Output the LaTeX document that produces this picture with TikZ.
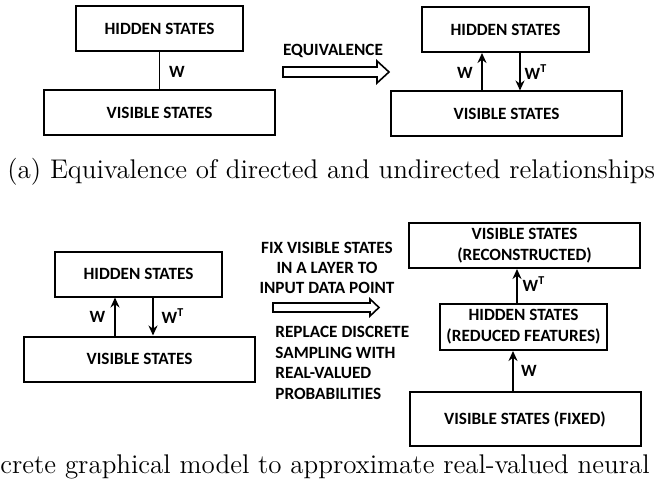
\documentclass[tikz,border=0pt]{standalone}
\usepackage{fontspec}
\setsansfont{Carlito}
\usetikzlibrary{arrows.meta}

\begin{document}
\begin{tikzpicture}[
    x=0.5pt, y=-0.5pt,
    box/.style={draw, line width=1pt, inner sep=0pt, align=center, font=\sffamily\bfseries\fontsize{8.6}{10.4}\selectfont},
    smallbox/.style={box, minimum width=83.5pt, minimum height=22.5pt},
    widebox/.style={box, minimum width=115.5pt, minimum height=22.5pt},
    arr/.style={-{Stealth[length=5pt, width=4.5pt]}, line width=0.9pt},
    link/.style={line width=0.9pt},
    openarr/.style={draw, line width=0.8pt},
    lbl/.style={font=\sffamily\bfseries\fontsize{8.6}{10}\selectfont, inner sep=0pt},
    note/.style={font=\sffamily\bfseries\fontsize{8.6}{10.2}\selectfont, inner sep=0pt},
    caption/.style={font=\fontsize{13.5}{15}\selectfont, inner sep=0pt, anchor=base west},
]
\useasboundingbox (0,0) rectangle (659,481);

% ============ (a) undirected vs directed ============
\node[smallbox] (a_hid) at (159.5, 28.5) {HIDDEN STATES};
\node[widebox] (a_vis) at (159.5, 112.5) {VISIBLE STATES};
\draw[link] (a_hid.south) -- (a_vis.north);
\node[lbl] at (177, 72) {W};

\node[note] (a_eq) at (333, 51) {EQUIVALENCE};
\draw[openarr] (283,67) -- (377,67) -- (377,61) -- (389,72) -- (377,83) -- (377,77) -- (283,77) -- cycle;

\node[smallbox] (b_hid) at (505.5, 29.5) {HIDDEN STATES};
\node[widebox] (b_vis) at (506.5, 114) {VISIBLE STATES};
\draw[arr] (b_vis.north -| 482,0) -- (b_hid.south -| 482,0);
\draw[arr] (b_hid.south -| 520,0) -- (b_vis.north -| 520,0);
\node[lbl] at (465, 73) {W};
\node[lbl] at (536, 72) {W\textsuperscript{T}};

\node[caption] (a_cap) at (7, 178) {(a) Equivalence of directed and undirected relationships};

% ============ (b) approximation by a neural network ============
\node[smallbox] (c_hid) at (138.5, 274) {HIDDEN STATES};
\node[widebox] (c_vis) at (139.5, 359) {VISIBLE STATES};
\draw[arr] (c_vis.north -| 115,0) -- (c_hid.south -| 115,0);
\draw[arr] (c_hid.south -| 153,0) -- (c_vis.north -| 153,0);
\node[lbl] at (97.5, 317) {W};
\node[lbl] at (173, 316) {W\textsuperscript{T}};

\node[note, align=center] (c_fix) at (327, 268) {FIX VISIBLE STATES\\IN A LAYER TO\\INPUT DATA POINT};
\draw[openarr] (273,303) -- (370,303) -- (370,299) -- (379,307.5) -- (370,316) -- (370,312) -- (273,312) -- cycle;
\node[note, align=left, anchor=west] (c_rep) at (275, 363) {REPLACE DISCRETE\\SAMPLING WITH\\REAL-VALUED\\PROBABILITIES};

\node[widebox] (d_rec) at (524.5, 245.5) {VISIBLE STATES\\(RECONSTRUCTED)};
\node[smallbox, minimum height=23pt] (d_hid) at (523.5, 327) {HIDDEN STATES\\(REDUCED FEATURES)};
\node[widebox, minimum height=27pt] (d_fix) at (525, 419) {VISIBLE STATES (FIXED)};
\draw[arr] (d_hid.north -| 517,0) -- (d_rec.south -| 517,0);
\draw[arr] (d_fix.north -| 513,0) -- (d_hid.south -| 513,0);
\node[lbl] at (534, 284) {W\textsuperscript{T}};
\node[lbl] at (529, 371) {W};

\node[caption] (b_cap) at (0, 473) {crete graphical model to approximate real-valued neural};

\end{tikzpicture}
\end{document}
